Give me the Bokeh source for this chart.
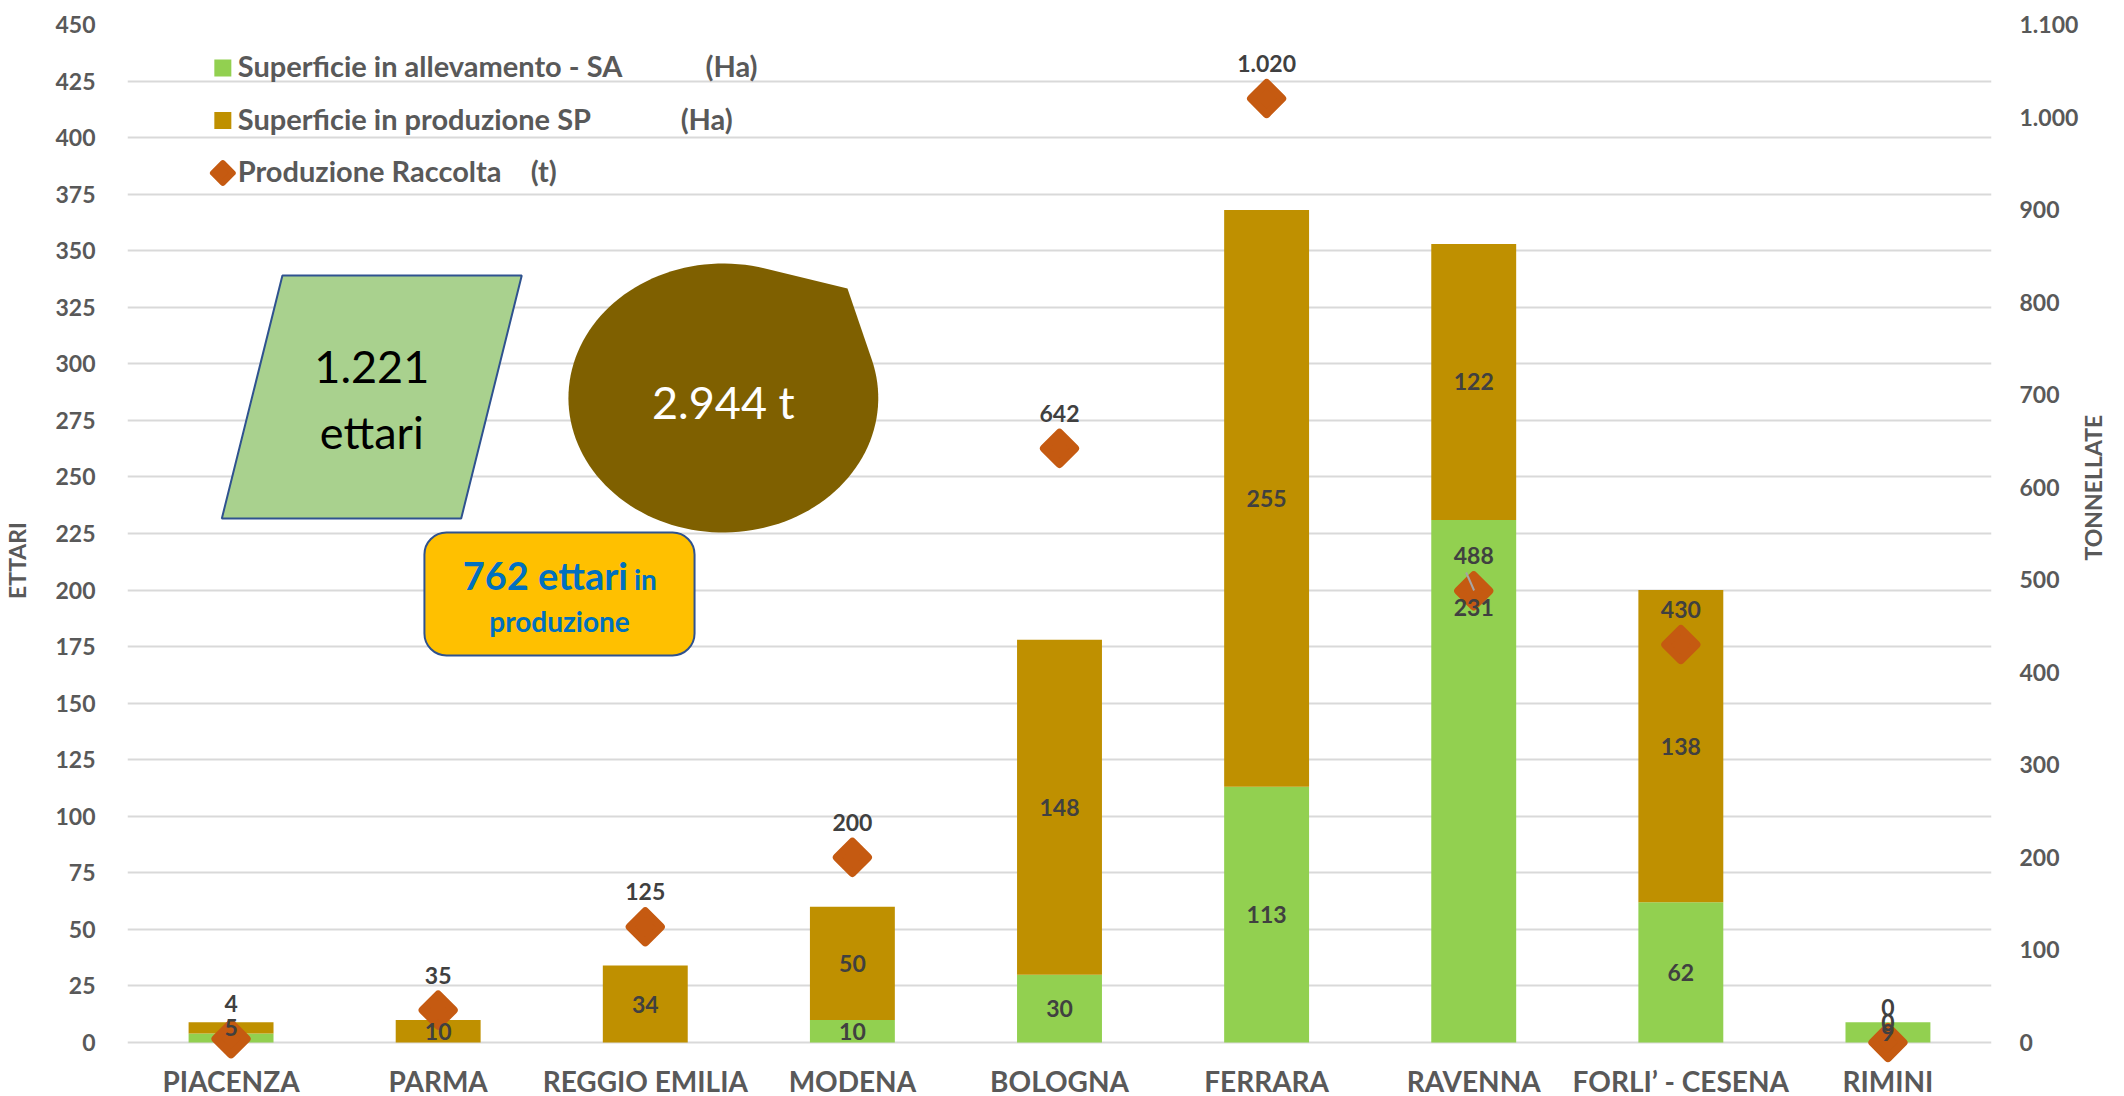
import math
from bokeh.plotting import figure
from bokeh.models import Range1d, LinearAxis, FixedTicker, Label, BoxAnnotation, ColumnDataSource, Grid
from bokeh.core.properties import value
from bokeh.embed import file_html
from bokeh.resources import INLINE

# ---------------- data ----------------
categories = ["PIACENZA", "PARMA", "REGGIO EMILIA", "MODENA", "BOLOGNA",
              "FERRARA", "RAVENNA", "FORLI\u2019 - CESENA", "RIMINI"]
sup_allevamento = [4, None, None, 10, 30, 113, 231, 62, 9]      # Ha (SA)
sup_produzione = [5, 10, 34, 50, 148, 255, 122, 138, 0]         # Ha (SP)
produzione_t = [4, 35, 125, 200, 642, 1020, 488, 430, 0]        # t
left_ticks = list(range(0, 451, 25))
right_ticks = list(range(0, 1101, 100))
right_tick_labels = ["0", "100", "200", "300", "400", "500", "600", "700", "800", "900", "1.000", "1.100"]
legend_labels = ["Superficie  in allevamento - SA", "Superficie in produzione SP", "Produzione Raccolta"]
legend_units = ["(Ha)", "(Ha)", "(t)"]

# label display tweaks (style)
sa_label_show = [False, True, True, True, True, True, True, True, True]
sa_label_dy = [0, 0, 0, 0, 0, 0, -174, 0, 0]

def it(n):
    return f"{n:,}".replace(",", ".")

# ---------------- geometry helpers (page pixels -> data) ----------------
W, H = 2124, 1096
FL, FR, FT, ZY = 121.0, 1998.0, 24.0, 1042.0
PXU = (ZY - FT) / 450.0
def px2x(px):
    return (px - FL) * 9.0 / (FR - FL)
def px2y(py):
    return (ZY - py) / PXU

Y0 = px2y(H)
TSCALE = 1100.0 / 450.0

p = figure(width=W, height=H, output_backend="svg", toolbar_location=None,
           x_range=Range1d(0, 9), y_range=Range1d(Y0, 450),
           x_axis_location=None, y_axis_location="left",
           min_border_left=int(FL), min_border_right=int(W - FR), min_border_top=int(FT),
           min_border_bottom=0)
p.outline_line_color = None
p.background_fill_color = "white"
p.extra_y_ranges = {"t": Range1d(Y0 * TSCALE, 1100)}
for r in p.center:
    if isinstance(r, Grid) and r.dimension == 0:
        r.visible = False

GREY = "#595959"
FONT = "Lato"

ya = p.yaxis[0]
ya.ticker = FixedTicker(ticks=left_ticks)
ya.bounds = (0, 450)
ya.axis_line_color = None
ya.major_tick_line_color = None
ya.minor_tick_line_color = None
ya.major_label_standoff = 26
ya.major_label_text_font = FONT
ya.major_label_text_font_style = "bold"
ya.major_label_text_font_size = "23px"
ya.major_label_text_color = GREY
ya.axis_label = "ETTARI"
ya.axis_label_standoff = 21
ya.axis_label_text_font = FONT
ya.axis_label_text_font_style = "bold"
ya.axis_label_text_font_size = "23px"
ya.axis_label_text_color = GREY

p.ygrid.grid_line_color = "#d9d9d9"
p.ygrid.grid_line_width = 2

ra = LinearAxis(y_range_name="t", ticker=FixedTicker(ticks=right_ticks),
                major_label_overrides={t: l for t, l in zip(right_ticks, right_tick_labels)})
ra.bounds = (-175, 1100)
ra.axis_line_color = None
ra.major_tick_line_color = None
ra.minor_tick_line_color = None
ra.major_label_standoff = 22
ra.major_label_text_font = FONT
ra.major_label_text_font_style = "bold"
ra.major_label_text_font_size = "23px"
ra.major_label_text_color = GREY
ra.axis_label = "TONNELLATE"
ra.axis_label_standoff = 12
ra.axis_label_orientation = math.pi / 2
ra.axis_label_text_font = FONT
ra.axis_label_text_font_style = "bold"
ra.axis_label_text_font_size = "23px"
ra.axis_label_text_color = GREY
p.add_layout(ra, "right")

# ---------------- decorative shapes ----------------
para_px = [(277, 275), (518, 275), (457, 518), (216, 518)]
p.patch([px2x(a) for a, b in para_px], [px2y(b) for a, b in para_px],
        fill_color="#a9d18e", line_color="#2f528f", line_width=2)

cx, cy, rx, ry = 721.0, 397.5, 156.0, 134.5
Pn = ((846.0 - cx) / rx, (cy - 288.0) / ry)
Pr = math.hypot(*Pn)
phi = math.atan2(Pn[1], Pn[0])
alpha = math.acos(1.0 / Pr)
t1, t2 = phi + alpha, phi - alpha + 2 * math.pi
bx, by = [], []
n = 120
for k in range(n + 1):
    t = t1 + (t2 - t1) * k / n
    bx.append(px2x(cx + rx * math.cos(t)))
    by.append(px2y(cy - ry * math.sin(t)))
bx.append(px2x(cx + rx * Pn[0]))
by.append(px2y(cy - ry * Pn[1]))
p.patch(bx, by, fill_color="#7f6000", line_color=None)

# ---------------- bars ----------------
xs = [i + 0.5 for i in range(len(categories))]
sa0 = [v if v is not None else 0 for v in sup_allevamento]
top_sp = [a + b for a, b in zip(sa0, sup_produzione)]
src = ColumnDataSource(dict(x=xs, sa=sa0, top=top_sp, prod=produzione_t))
p.vbar(x="x", bottom=0, top="sa", width=0.41, fill_color="#92d050", line_color=None, source=src)
p.vbar(x="x", bottom="sa", top="top", width=0.41, fill_color="#bf9000", line_color=None, source=src)

DIAM = "#c55a11"
p.scatter(x="x", y="prod", y_range_name="t", marker="square", angle=math.pi / 4,
          size=22, fill_color=DIAM, line_color=DIAM, line_width=8, line_join="round", source=src)

# leader line of the moved Ravenna label
p.segment(x0=[px2x(1469)], y0=[px2y(572)], x1=[px2x(1477)], y1=[px2y(590)],
          line_color="#a6a6a6", line_width=2)

# ---------------- data labels ----------------
LBL = dict(text_font=value(FONT), text_font_style="bold", text_font_size="23px",
           text_color="#404040", text_align="center", text_baseline="middle")

sa_idx = [i for i, v in enumerate(sup_allevamento) if v is not None and sa_label_show[i]]
p.text(x=[xs[i] for i in sa_idx], y=[sup_allevamento[i] / 2 for i in sa_idx],
       text=[str(sup_allevamento[i]) for i in sa_idx], y_offset=[sa_label_dy[i] for i in sa_idx], **LBL)
p.text(x=xs, y=[a + b / 2 for a, b in zip(sa0, sup_produzione)],
       text=[str(v) for v in sup_produzione], **LBL)
p.text(x=xs, y=produzione_t, y_range_name="t", text=[it(v) for v in produzione_t],
       y_offset=-35, **LBL)

# ---------------- legend (manual) ----------------
p.scatter(x=[px2x(217)] * 2, y=[px2y(67.5), px2y(120)], marker="square", size=17,
          fill_color=["#92d050", "#bf9000"], line_color=None)
p.scatter(x=[px2x(217)], y=[px2y(172.5)], marker="square", angle=math.pi / 4, size=14,
          fill_color=DIAM, line_color=DIAM, line_width=6, line_join="round")
leg_mid = [64.5, 117.5, 170]
unit_x = [703, 678, 527]
for txt, unit, ym, ux in zip(legend_labels, legend_units, leg_mid, unit_x):
    p.add_layout(Label(x=px2x(232), y=px2y(ym), text=txt, text_font=FONT, text_font_style="bold",
                       text_font_size="29px", text_color=GREY, text_align="left", text_baseline="middle"))
    p.add_layout(Label(x=px2x(ux), y=px2y(ym), text=unit, text_font=FONT, text_font_style="bold",
                       text_font_size="29px", text_color=GREY, text_align="left", text_baseline="middle"))

# ---------------- category labels ----------------
for xc, cat in zip(xs, categories):
    p.add_layout(Label(x=xc, y=px2y(1080), text=cat, text_font=FONT, text_font_style="bold",
                       text_font_size="28px", text_color=GREY, text_align="center",
                       text_baseline="middle"))

# ---------------- shape texts ----------------
total_ha = sum(sa0) + sum(sup_produzione)
total_t = sum(produzione_t)
prod_ha = sum(sup_produzione)

p.add_layout(Label(x=px2x(367), y=px2y(366), text=it(total_ha), text_font=FONT, text_font_size="45px",
                   text_color="black", text_align="center", text_baseline="middle"))
p.add_layout(Label(x=px2x(367), y=px2y(431), text="ettari", text_font=FONT, text_font_size="45px",
                   text_color="black", text_align="center", text_baseline="middle"))
p.add_layout(Label(x=px2x(721), y=px2y(401), text=f"{it(total_t)} t", text_font=FONT, text_font_size="45px",
                   text_color="white", text_align="center", text_baseline="middle"))

p.add_layout(BoxAnnotation(left=px2x(420), right=px2x(692), top=px2y(532), bottom=px2y(655),
                           fill_color="#ffc000", fill_alpha=1, line_color="#2f528f", line_alpha=1,
                           line_width=2, border_radius=22))
BLUE = "#0070c0"
p.add_layout(Label(x=px2x(625), y=px2y(574), text=f"{prod_ha} ettari", text_font=FONT, text_font_style="bold",
                   text_font_size="38px", text_color=BLUE, text_align="right", text_baseline="middle"))
p.add_layout(Label(x=px2x(631), y=px2y(578), text="in", text_font=FONT, text_font_style="bold",
                   text_font_size="28px", text_color=BLUE, text_align="left", text_baseline="middle"))
p.add_layout(Label(x=px2x(556), y=px2y(620), text="produzione", text_font=FONT, text_font_style="bold",
                   text_font_size="28px", text_color=BLUE, text_align="center", text_baseline="middle"))

open("out.html", "w").write(file_html(p, INLINE))
